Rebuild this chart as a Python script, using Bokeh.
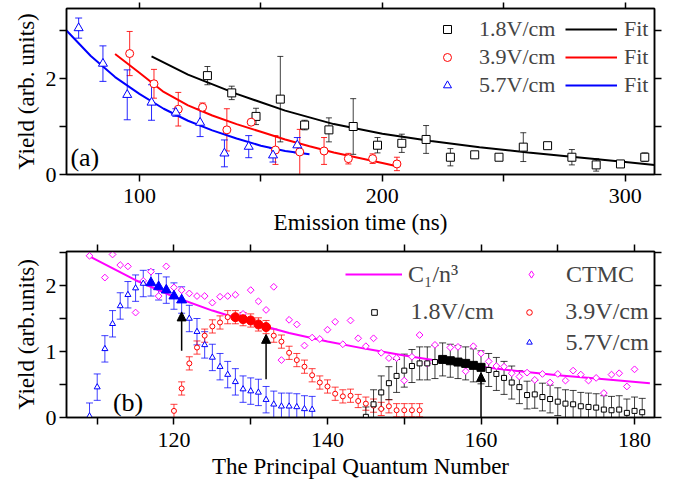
import numpy as np
from bokeh.plotting import figure
from bokeh.models import (Range1d, LinearAxis, FixedTicker, Whisker, TeeHead, ColumnDataSource,
                          Legend, LegendItem, Label, Arrow, NormalHead)
from bokeh.layouts import column
from bokeh.embed import file_html
from bokeh.resources import INLINE

FONT = "serif"
AXFONT = "serif"
BLACK, RED, BLUE, MAG = "#000000", "#ff0000", "#0000ff", "#ff00ff"

# ---------------- Panel (a): yield vs emission time ----------------
t_18 = [128, 138, 148, 158, 168, 178, 188, 198, 208, 218, 228, 238, 248, 258, 268, 278, 288, 298, 308]
y_18 = [2.06, 1.70, 1.21, 1.57, 1.03, 0.93, 1.00, 0.61, 0.65, 0.73, 0.36, 0.41, 0.36, 0.57, 0.60, 0.36, 0.20, 0.22, 0.36]
e_18 = [0.19, 0.14, 0.17, 0.89, 0.10, 0.25, 0.58, 0.16, 0.19, 0.29, 0.18, 0.05, 0.04, 0.30, 0.05, 0.16, 0.13, 0.05, 0.09]

t_39 = [96, 106, 116, 126, 136, 146, 156, 166, 176, 186, 196, 206]
y_39 = [2.52, 1.89, 1.36, 1.40, 0.93, 1.09, 0.51, 0.47, 0.49, 0.33, 0.33, 0.22]
e_39 = [0.46, 0.30, 0.35, 0.09, 0.44, 0.04, 0.30, 0.47, 0.28, 0.11, 0.10, 0.14]

t_57 = [75, 85, 95, 105, 115, 125, 135, 145, 155, 165]
y_57 = [3.05, 2.31, 1.66, 1.50, 1.29, 1.08, 0.44, 0.58, 0.40, 0.61]
e_57 = [0.21, 0.37, 0.52, 0.37, 0.08, 0.29, 0.28, 0.23, 0.14, 0.16]

fit18_t = [105, 120, 140, 160, 180, 200, 220, 240, 260, 280, 300, 312]
fit18_y = [2.46, 2.08, 1.68, 1.33, 1.05, 0.85, 0.70, 0.57, 0.46, 0.36, 0.26, 0.20]
fit39_t = [90, 100, 110, 120, 130, 140, 150, 160, 170, 180, 190, 200, 206]
fit39_y = [2.51, 2.12, 1.72, 1.44, 1.23, 1.05, 0.89, 0.73, 0.59, 0.46, 0.35, 0.24, 0.17]
fit57_t = [70, 80, 90, 100, 110, 120, 130, 140, 150, 160, 170]
fit57_y = [3.00, 2.47, 2.03, 1.68, 1.37, 1.12, 0.92, 0.75, 0.60, 0.49, 0.42]

a_xticks, a_xminor = [100, 200, 300], [150, 250]
a_yticks, a_yminor = [0, 2], [1, 3]

# ---------------- Panel (b): yield vs principal quantum number ----------------
n_57 = list(range(109, 139))
y_b57 = [0.02, 0.46, 1.04, 1.42, 1.69, 1.86, 1.96, 2.03, 2.04, 1.98, 1.93, 1.84, 1.78, 1.50, 1.30,
         1.10, 0.91, 0.77, 0.65, 0.54, 0.43, 0.40, 0.38, 0.27, 0.20, 0.17, 0.17, 0.16, 0.13, 0.12]
e_b57 = [0.2] * 30
sel_57 = [117, 118, 119, 120, 121]

n_39 = list(range(120, 153))
y_b39 = [0.10, 0.44, 0.82, 1.06, 1.24, 1.38, 1.44, 1.52, 1.52, 1.49, 1.47, 1.41, 1.37, 1.24, 1.15,
         0.98, 0.87, 0.77, 0.64, 0.53, 0.47, 0.36, 0.32, 0.33, 0.25, 0.21, 0.18, 0.13, 0.17, 0.11,
         0.11, 0.11, 0.11]
e_b39 = [0.1] * 33
sel_39 = [128, 129, 130, 131, 132]

n_18 = list(range(145, 182))
y_b18 = [0.01, 0.20, 0.38, 0.52, 0.63, 0.71, 0.78, 0.82, 0.82, 0.84, 0.88, 0.86, 0.84, 0.82, 0.79,
         0.76, 0.72, 0.66, 0.60, 0.53, 0.46, 0.34, 0.35, 0.31, 0.28, 0.24, 0.21, 0.20, 0.17, 0.16,
         0.15, 0.12, 0.11, 0.12, 0.07, 0.10, 0.08]
e_b18 = [0.15, 0.22] + [0.25] * 19 + [0.21] * 16
sel_18 = [155, 156, 157, 158, 159, 160]

n_ctmc = [109] + list(range(111, 181))
y_ctmc = [2.45, 2.12, 2.47, 2.31, 2.29, 1.59, 2.07, 2.21, 1.84, 2.29, 1.97, 1.93, 1.88, 1.84, 1.84,
          1.74, 1.83, 1.84, 1.86, 1.57, 1.93, 1.76, 1.63, 1.98, 0.87, 1.48, 1.41, 1.09, 1.21, 1.19,
          1.33, 1.45, 1.11, 1.47, 1.20, 1.08, 1.20, 0.98, 0.90, 0.90, 0.56, 0.92, 1.25, 0.82, 1.10,
          0.88, 1.06, 1.07, 0.70, 1.08, 0.97, 0.85, 0.78, 0.77, 0.67, 0.62, 0.68, 0.57, 0.66, 0.53,
          0.66, 0.56, 0.71, 0.65, 0.56, 0.60, 0.37, 0.65, 0.67, 0.47, 0.73]

n_c1 = [109, 115, 120, 125, 130, 135, 140, 145, 150, 155, 160, 165, 170, 175, 182]
y_c1 = [2.44, 2.08, 1.83, 1.62, 1.44, 1.28, 1.15, 1.04, 0.94, 0.85, 0.77, 0.70, 0.64, 0.59, 0.52]

arrow_n = [121, 132, 160]
arrow_y0 = [1.01, 0.58, 0.0]
arrow_y1 = [1.60, 1.26, 0.68]

b_xticks, b_xminor = [120, 140, 160, 180], [110, 130, 150, 170]
b_yticks, b_yminor = [0, 1, 2], [0.5, 1.5, 2.5]


def style_axis(ax, ticks, minor, labels=True, title=None, standoff=3, tick_out=7):
    ax.ticker = FixedTicker(ticks=ticks, minor_ticks=minor)
    ax.major_tick_in = 0
    ax.major_tick_out = tick_out
    ax.minor_tick_in = 0
    ax.minor_tick_out = tick_out
    ax.axis_line_width = 1.5
    ax.major_tick_line_width = 1.5
    ax.minor_tick_line_width = 1.5
    ax.axis_line_color = "black"
    ax.major_label_text_font = AXFONT
    ax.major_label_text_font_style = "normal"
    if labels:
        ax.major_label_text_font_size = "22px"
        ax.major_label_text_color = "black"
        ax.major_label_standoff = standoff
    else:
        ax.major_label_overrides = {t: "" for t in ticks}
        ax.major_label_text_font_size = "1px"
        ax.major_label_standoff = 0
    if title:
        ax.axis_label = title
        ax.axis_label_text_font = AXFONT
        ax.axis_label_text_font_size = "23px"
        ax.axis_label_text_font_style = "normal"
        ax.axis_label_text_color = "black"
        ax.axis_label_standoff = 4


def make_fig(xr, yr, h, mb_top, mb_bottom):
    p = figure(width=674, height=h, x_range=Range1d(*xr), y_range=Range1d(*yr),
               output_backend="svg", toolbar_location=None, x_axis_location=None,
               y_axis_location=None, min_border_left=66, min_border_right=20,
               min_border_top=mb_top, min_border_bottom=mb_bottom)
    p.xgrid.visible = False
    p.ygrid.visible = False
    p.outline_line_color = "black"
    p.outline_line_width = 1.5
    p.background_fill_color = "white"
    p.border_fill_color = "white"
    return p


def add_axes(p, xt, xm, yt, ym, xtitle, ytitle, xstand, top_tick):
    b = LinearAxis(); style_axis(b, xt, xm, True, xtitle, xstand); p.add_layout(b, "below")
    l = LinearAxis(); style_axis(l, yt, ym, True, ytitle); p.add_layout(l, "left")
    a = LinearAxis(); style_axis(a, xt, xm, False, tick_out=top_tick); p.add_layout(a, "above")
    r = LinearAxis(); style_axis(r, yt, ym, False); p.add_layout(r, "right")


def errbars(p, x, y, e, color, cap, alpha=0.85):
    src = ColumnDataSource(dict(x=x, lo=[v - d for v, d in zip(y, e)], hi=[v + d for v, d in zip(y, e)]))
    w = Whisker(source=src, base="x", lower="lo", upper="hi", dimension="height",
                line_color=color, line_alpha=alpha, line_width=1,
                lower_head=TeeHead(size=cap, line_color=color, line_alpha=alpha, line_width=1),
                upper_head=TeeHead(size=cap, line_color=color, line_alpha=alpha, line_width=1))
    p.add_layout(w)


# ---------- figure (a) ----------
pa = make_fig((70, 312), (0, 166 / 48), 239, 8, 65)
add_axes(pa, a_xticks, a_xminor, a_yticks, a_yminor, "Emission time (ns)", "Yield (arb. units)", 7, 6)

errbars(pa, t_18, y_18, e_18, BLACK, 6, 0.75)
errbars(pa, t_39, y_39, e_39, RED, 6)
errbars(pa, t_57, y_57, e_57, BLUE, 7)

f18 = pa.line(fit18_t, fit18_y, line_color=BLACK, line_width=2)
f39 = pa.line(fit39_t, fit39_y, line_color=RED, line_width=2)
f57 = pa.line(fit57_t, fit57_y, line_color=BLUE, line_width=2)

s18 = pa.scatter(t_18, y_18, marker="square", size=8, line_color=BLACK, fill_color="white", line_width=1)
s39 = pa.scatter(t_39, y_39, marker="circle", size=8, line_color=RED, fill_color="white", line_width=1)
s57 = pa.scatter(t_57, y_57, marker="triangle", size=9, line_color=BLUE, fill_color="white", line_width=1)

leg_common = dict(padding=0, margin=0, border_line_color=None, background_fill_alpha=0,
                  label_text_font=FONT, label_text_font_size="22px", glyph_height=26,
                  label_height=26, spacing=2)
lg1 = Legend(items=[LegendItem(label="1.8V/cm", renderers=[s18]),
                    LegendItem(label="3.9V/cm", renderers=[s39]),
                    LegendItem(label="5.7V/cm", renderers=[s57])],
             location=(371, 76), glyph_width=20, label_standoff=22, **leg_common)
lg2 = Legend(items=[LegendItem(label="Fit", renderers=[f18]),
                    LegendItem(label="Fit", renderers=[f39]),
                    LegendItem(label="Fit", renderers=[f57])],
             location=(499, 76), glyph_width=52, label_standoff=7, **leg_common)
pa.add_layout(lg1)
pa.add_layout(lg2)
pa.add_layout(Label(x=71.6, y=0.36, text="(a)", text_font=FONT, text_font_size="26px",
                    text_baseline="middle", text_color="black"))

# ---------- figure (b) ----------
pb = make_fig((106, 182.6), (0, 166 / 66), 242, 12, 64)
add_axes(pb, b_xticks, b_xminor, b_yticks, b_yminor, "The Principal Quantum Number", "Yield (arb.units)", 8, 7)

c1 = pb.line(n_c1, y_c1, line_color=MAG, line_width=2)
pb.scatter(n_ctmc, y_ctmc, marker="square", size=4.8, angle=np.pi / 4, line_color=MAG,
           fill_color="white", line_width=1)
# legend key only (not drawn in the plot area)
ct_key = pb.scatter(n_ctmc, y_ctmc, marker="diamond", line_color=MAG, fill_color="white",
                    line_width=1, visible=False)

errbars(pb, n_57, y_b57, e_b57, BLUE, 7, 0.75)
errbars(pb, n_39, y_b39, e_b39, RED, 7, 0.75)
errbars(pb, n_18, y_b18, e_b18, BLACK, 7, 0.75)

o57 = pb.scatter(n_57, y_b57, marker="triangle", size=6, line_color=BLUE, fill_color="white", line_width=1)
o39 = pb.scatter(n_39, y_b39, marker="circle", size=5, line_color=RED, fill_color="white", line_width=1)
o18 = pb.scatter(n_18, y_b18, marker="square", size=5, line_color=BLACK, fill_color="white", line_width=1)

def pick(ns, ys, sel):
    return [n for n in ns if n in sel], [y for n, y in zip(ns, ys) if n in sel]

xs, ys = pick(n_57, y_b57, sel_57)
pb.scatter(xs, ys, marker="triangle", size=10, line_color=BLUE, fill_color=BLUE)
xs, ys = pick(n_39, y_b39, sel_39)
pb.scatter(xs, ys, marker="circle", size=9, line_color=RED, fill_color=RED)
xs, ys = pick(n_18, y_b18, sel_18)
pb.scatter(xs, ys, marker="square", size=8, line_color=BLACK, fill_color=BLACK)

asrc = ColumnDataSource(dict(x=arrow_n, y0=arrow_y0, y1=arrow_y1))
pb.add_layout(Arrow(source=asrc, x_start="x", y_start="y0", x_end="x", y_end="y1",
                    line_color="black", line_width=1.5,
                    end=NormalHead(size=9, fill_color="black", line_color="black", line_width=1)))

leg_b = dict(padding=0, margin=0, border_line_color=None, background_fill_alpha=0,
             label_text_font=FONT, label_text_font_size="24px", glyph_height=30,
             label_height=30, spacing=0, inactive_fill_alpha=0)
for lbl, r, x, y, gw, so in [("C\u2081/n\u00b3", c1, 279, 128, 57, 6),
                             ("1.8V/cm", o18, 300.5, 90.3, 14, 30),
                             ("CTMC", ct_key, 456, 128, 18, 26),
                             ("3.9V/cm", o39, 456.3, 90.5, 14, 29),
                             ("5.7V/cm", o57, 455.5, 60, 14, 30)]:
    pb.add_layout(Legend(items=[LegendItem(label=lbl, renderers=[r])], location=(x, y),
                         glyph_width=gw, label_standoff=so, **leg_b))

pb.add_layout(Label(x=112.05, y=0.234, text="(b)", text_font=FONT, text_font_size="26px",
                    text_baseline="middle", text_color="black"))

layout = column(pa, pb, spacing=0)
layout.margin = (0, 0, -8, 0)

open("out.html", "w").write(file_html(layout, INLINE))
